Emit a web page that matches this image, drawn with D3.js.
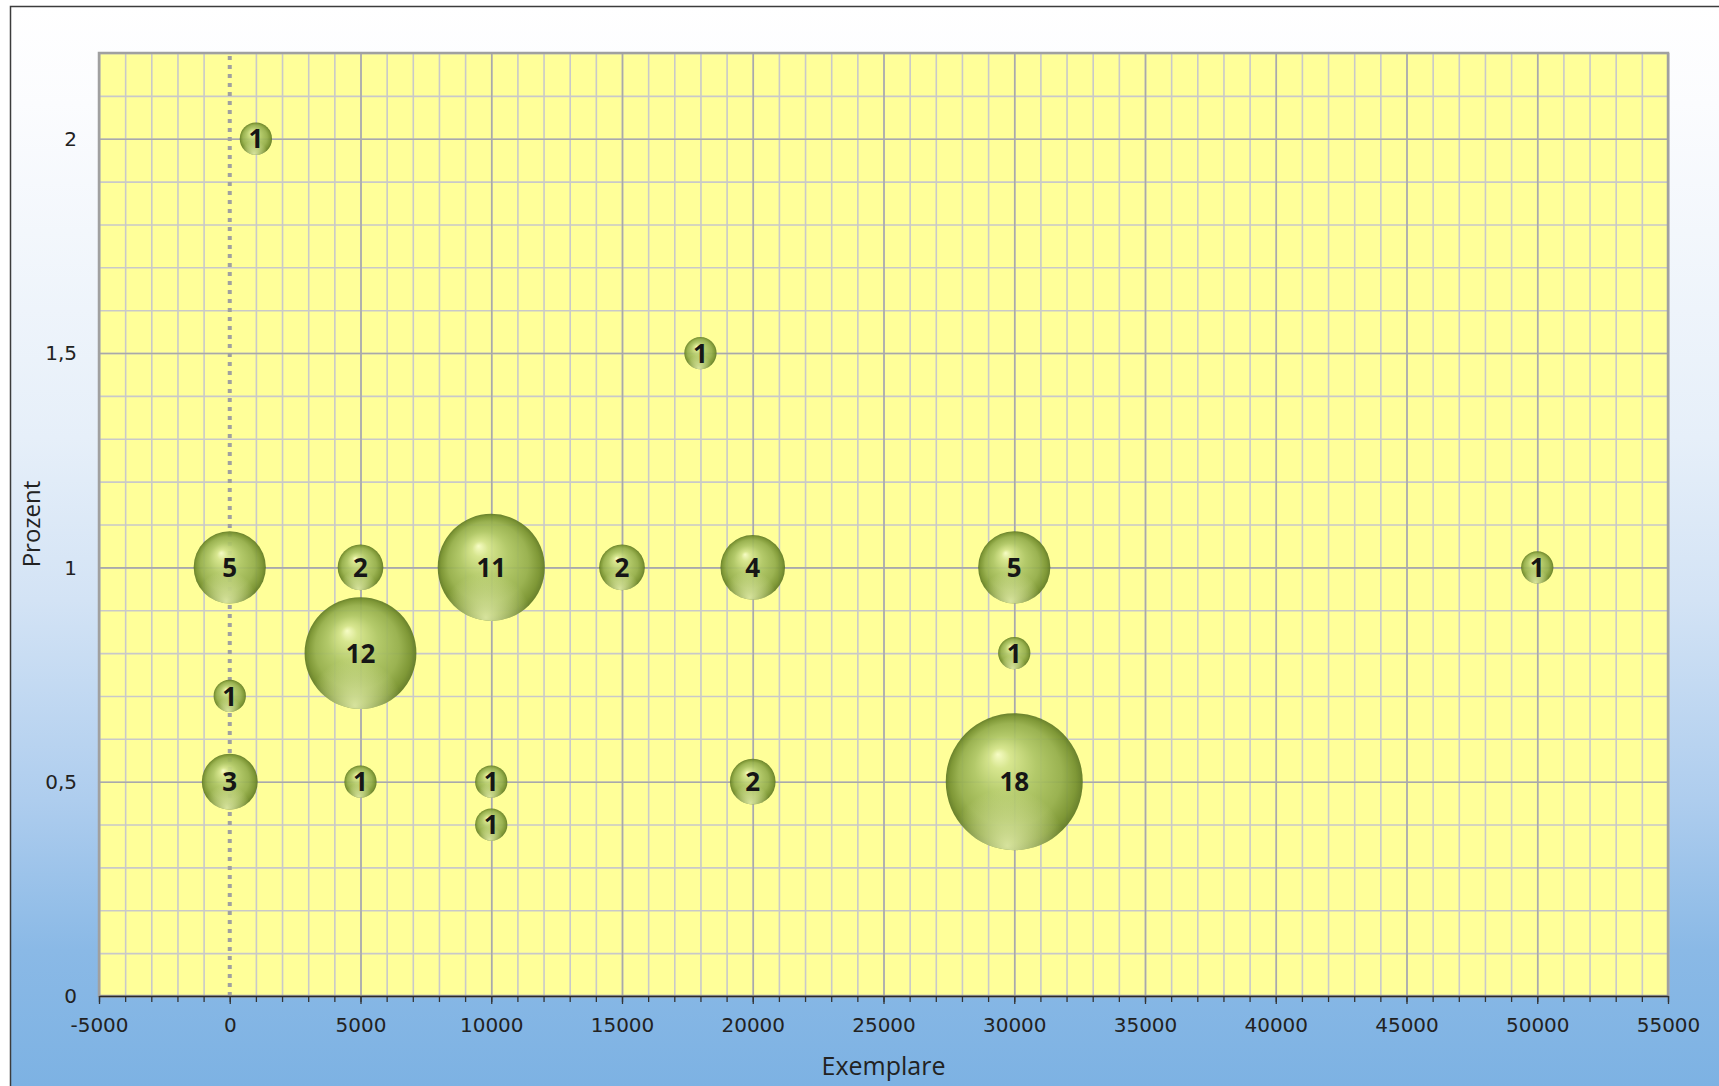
<!DOCTYPE html>
<html>
<head>
<meta charset="utf-8">
<script src="https://cdn.jsdelivr.net/npm/d3@7"></script>
<style>
body { margin: 0; background: #fff; }
svg { display: block; }
</style>
</head>
<body>
<svg width="1719" height="1086"></svg>
<script>
"use strict";
// values
const exemplare = [1000, 0, 5000, 10000, 15000, 18000, 20000, 30000, 50000, 5000, 0, 30000, 0, 5000, 10000, 10000, 20000, 30000];
const prozent = [2, 1, 1, 1, 1, 1.5, 1, 1, 1, 0.8, 0.7, 0.8, 0.5, 0.5, 0.5, 0.4, 0.5, 0.5];
const anzahl = [1, 5, 2, 11, 2, 1, 4, 5, 1, 12, 1, 1, 3, 1, 1, 1, 2, 18];
const xTicks = [-5000, 0, 5000, 10000, 15000, 20000, 25000, 30000, 35000, 40000, 45000, 50000, 55000];
const yTicks = [0, 0.5, 1, 1.5, 2];
const yTickLabels = ["0", "0,5", "1", "1,5", "2"];
const xTitle = "Exemplare";
const yTitle = "Prozent";

const svg = d3.select("svg");
const pLeft = 99, pRight = 1668, pTop = 53, pBottom = 996;
const tickFont = "'DejaVu Sans', Verdana, sans-serif";

const x = d3.scaleLinear().domain([-5000, 55000]).range([pLeft, pRight]);
const y = d3.scaleLinear().domain([0, 2.2]).range([pBottom, pTop]);
const r = d3.scaleSqrt().domain([0, 18]).range([0, 68.5]);

const defs = svg.append("defs");
const bg = defs.append("linearGradient")
    .attr("id", "bg")
    .attr("x1", 0).attr("y1", 0).attr("x2", 0).attr("y2", 1);
[[0, "#ffffff"], [0.09, "#fbfcfe"], [0.4, "#e6eff9"], [0.55, "#d3e3f5"],
 [0.735, "#aecdee"], [0.874, "#8ab9e6"], [1, "#7db2e3"]].forEach(s => {
    bg.append("stop").attr("offset", s[0]).attr("stop-color", s[1]);
});

const ball = defs.append("radialGradient")
    .attr("id", "ball")
    .attr("cx", "0.5").attr("cy", "0.5").attr("r", "0.5")
    .attr("fx", "0.38").attr("fy", "0.3");
[[0, "#f6fcc8"], [0.15, "#d4e48e"], [0.45, "#adc566"], [0.75, "#93ad4c"], [0.92, "#75902f"], [1, "#5e7824"]].forEach(s => {
    ball.append("stop").attr("offset", s[0]).attr("stop-color", s[1]);
});
const shine = defs.append("radialGradient")
    .attr("id", "shine")
    .attr("cx", "0.45").attr("cy", "0.97").attr("r", "0.42");
shine.append("stop").attr("offset", 0).attr("stop-color", "#e8f2b0").attr("stop-opacity", 0.85);
shine.append("stop").attr("offset", 1).attr("stop-color", "#e8f2b0").attr("stop-opacity", 0);

// chart area background and border
svg.append("rect")
    .attr("x", 10).attr("y", 6)
    .attr("width", 1719 - 10).attr("height", 1086 - 6)
    .attr("fill", "url(#bg)");
svg.append("path")
    .attr("d", `M10.5,1086 V6.5 H1719`)
    .attr("fill", "none")
    .attr("stroke", "#3c3c3c")
    .attr("stroke-width", 1.5);

// plot area
svg.append("rect")
    .attr("x", pLeft).attr("y", pTop)
    .attr("width", pRight - pLeft).attr("height", pBottom - pTop)
    .attr("fill", "#ffff99");

// minor grid (no line at 0, the dotted axis sits there)
svg.append("g")
    .attr("transform", `translate(0,${pBottom})`)
    .call(d3.axisBottom(x).tickValues(d3.range(-5000, 55001, 1000).filter(v => v !== 0)).tickSize(-(pBottom - pTop)).tickFormat(""))
    .call(g => g.select(".domain").remove())
    .selectAll("line").attr("stroke", "#c9c9c9").attr("stroke-width", 1.6);
svg.append("g")
    .attr("transform", `translate(${pLeft},0)`)
    .call(d3.axisLeft(y).tickValues(d3.range(0, 2.21, 0.1)).tickSize(-(pRight - pLeft)).tickFormat(""))
    .call(g => g.select(".domain").remove())
    .selectAll("line").attr("stroke", "#c9c9c9").attr("stroke-width", 1.6);

// major grid
svg.append("g")
    .attr("transform", `translate(0,${pBottom})`)
    .call(d3.axisBottom(x).tickValues(xTicks.filter(v => v !== 0)).tickSize(-(pBottom - pTop)).tickFormat(""))
    .call(g => g.select(".domain").remove())
    .selectAll("line").attr("stroke", "#a9a9a9").attr("stroke-width", 1.6);
svg.append("g")
    .attr("transform", `translate(${pLeft},0)`)
    .call(d3.axisLeft(y).tickValues(yTicks).tickSize(-(pRight - pLeft)).tickFormat(""))
    .call(g => g.select(".domain").remove())
    .selectAll("line").attr("stroke", "#a9a9a9").attr("stroke-width", 1.6);

// plot border
svg.append("rect")
    .attr("x", pLeft).attr("y", pTop)
    .attr("width", pRight - pLeft).attr("height", pBottom - pTop)
    .attr("fill", "none")
    .attr("stroke", "#a0a0a0")
    .attr("stroke-width", 2.5);

// vertical axis crosses at 0: dotted
svg.append("line")
    .attr("x1", x(0)).attr("x2", x(0))
    .attr("y1", pTop + 3).attr("y2", pBottom)
    .attr("stroke", "#a0a0a0")
    .attr("stroke-width", 4)
    .attr("stroke-dasharray", "4,5");

// x axis
svg.append("g")
    .attr("transform", `translate(0,${pBottom})`)
    .call(d3.axisBottom(x).tickValues(d3.range(-5000, 55001, 1000)).tickSize(6).tickFormat(""))
    .call(g => g.select(".domain").remove())
    .selectAll("line").attr("stroke", "#333").attr("stroke-width", 1.3);
const xMajor = svg.append("g")
    .attr("transform", `translate(0,${pBottom})`)
    .call(d3.axisBottom(x).tickValues(xTicks).tickSize(8).tickPadding(14).tickSizeOuter(0).tickFormat(d => String(d)));
xMajor.select(".domain").attr("stroke", "#2a2a2a").attr("stroke-width", 1.6);
xMajor.selectAll("line").attr("stroke", "#333").attr("stroke-width", 1.3);
xMajor.selectAll("text")
    .attr("fill", "#222")
    .style("font-family", tickFont)
    .style("font-size", "20px");

// y axis labels (no ticks)
svg.append("g")
    .selectAll("text")
    .data(yTicks)
    .join("text")
    .attr("x", 77)
    .attr("y", d => y(d))
    .attr("dy", "0.36em")
    .attr("text-anchor", "end")
    .attr("fill", "#222")
    .style("font-family", tickFont)
    .style("font-size", "20px")
    .text((d, i) => yTickLabels[i]);

// axis titles
svg.append("text")
    .attr("x", (pLeft + pRight) / 2)
    .attr("y", 1075)
    .attr("text-anchor", "middle")
    .attr("fill", "#222")
    .style("font-family", "'Open Sans', sans-serif")
    .style("font-size", "25px")
    .text(xTitle);
svg.append("text")
    .attr("transform", `translate(40,524) rotate(-90)`)
    .attr("text-anchor", "middle")
    .attr("fill", "#222")
    .style("font-family", "'Open Sans', sans-serif")
    .style("font-size", "24px")
    .text(yTitle);

// bubbles, big ones behind
const points = anzahl.map((n, i) => ({ x: exemplare[i], y: prozent[i], n: n }))
    .sort((a, b) => b.n - a.n);

const bubbles = svg.append("g")
    .selectAll("g")
    .data(points)
    .join("g")
    .attr("transform", d => `translate(${x(d.x)},${y(d.y)})`);
bubbles.append("circle")
    .attr("r", d => r(d.n))
    .attr("fill", "url(#ball)")
    .attr("fill-opacity", 0.93);
bubbles.append("circle")
    .attr("r", d => r(d.n))
    .attr("fill", "url(#shine)");
bubbles.append("text")
    .attr("text-anchor", "middle")
    .attr("dy", "0.37em")
    .attr("fill", "#161616")
    .style("font-family", "'Open Sans', sans-serif")
    .style("font-weight", "bold")
    .style("font-size", "26px")
    .text(d => d.n);
</script>
</body>
</html>
